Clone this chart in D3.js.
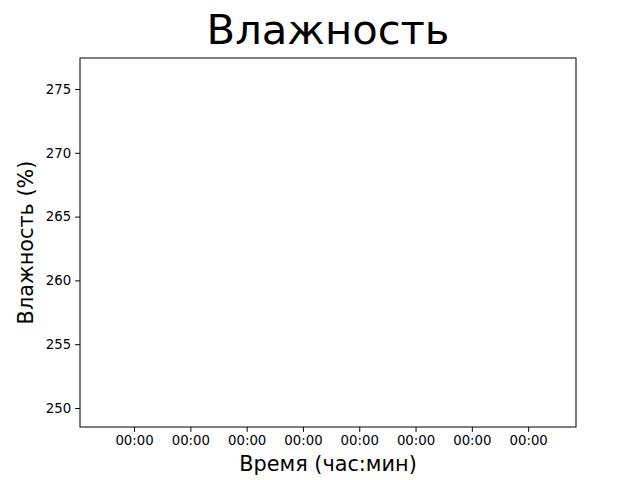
<!DOCTYPE html>
<html><head><meta charset="utf-8">
<script src="https://cdn.jsdelivr.net/npm/d3@7"></script>
<style>body{margin:0;background:#fff}text{font-family:"DejaVu Sans",sans-serif}</style>
</head><body>
<svg id="c" width="640" height="480"></svg>
<script>
const xTickLabels = ["00:00","00:00","00:00","00:00","00:00","00:00","00:00","00:00"];
const xTickIdx = [0,1,2,3,4,5,6,7];
const yTicks = [250,255,260,265,270,275];
const yDomain = [248.51, 277.43];
const xDomain = [-0.96, 7.85];
const title = "Влажность", xLabel = "Время (час:мин)", yLabel = "Влажность (%)";

const svg = d3.select("#c");
const L=80,R=576,T=58,B=427;
const x = d3.scaleLinear().domain(xDomain).range([L,R]);
const y = d3.scaleLinear().domain(yDomain).range([B,T]);
svg.append("g").attr("transform",`translate(0,${B})`)
  .call(d3.axisBottom(x).tickValues(xTickIdx).tickFormat((d,i)=>xTickLabels[i]).tickSizeOuter(0).tickSize(4.9).tickPadding(4))
  .call(g=>{g.select(".domain").remove();g.selectAll("text").attr("font-size",13.3).attr("font-family","DejaVu Sans").attr("fill","#000");});
svg.append("g").attr("transform",`translate(${L},0)`)
  .call(d3.axisLeft(y).tickValues(yTicks).tickSizeOuter(0).tickSize(4.9).tickPadding(4))
  .call(g=>{g.select(".domain").remove();g.selectAll("text").attr("font-size",13.3).attr("font-family","DejaVu Sans").attr("fill","#000");});
svg.append("rect").attr("x",L).attr("y",T).attr("width",R-L).attr("height",B-T)
  .attr("fill","none").attr("stroke","#000").attr("stroke-width",1);
svg.append("text").attr("x",(L+R)/2).attr("y",44).attr("text-anchor","middle").attr("font-size",41.7).text(title);
svg.append("text").attr("x",(L+R)/2).attr("y",471).attr("text-anchor","middle").attr("font-size",20.8).text(xLabel);
svg.append("text").attr("transform",`translate(33,${(T+B)/2}) rotate(-90)`).attr("text-anchor","middle").attr("font-size",20.8).text(yLabel);
</script></body></html>
